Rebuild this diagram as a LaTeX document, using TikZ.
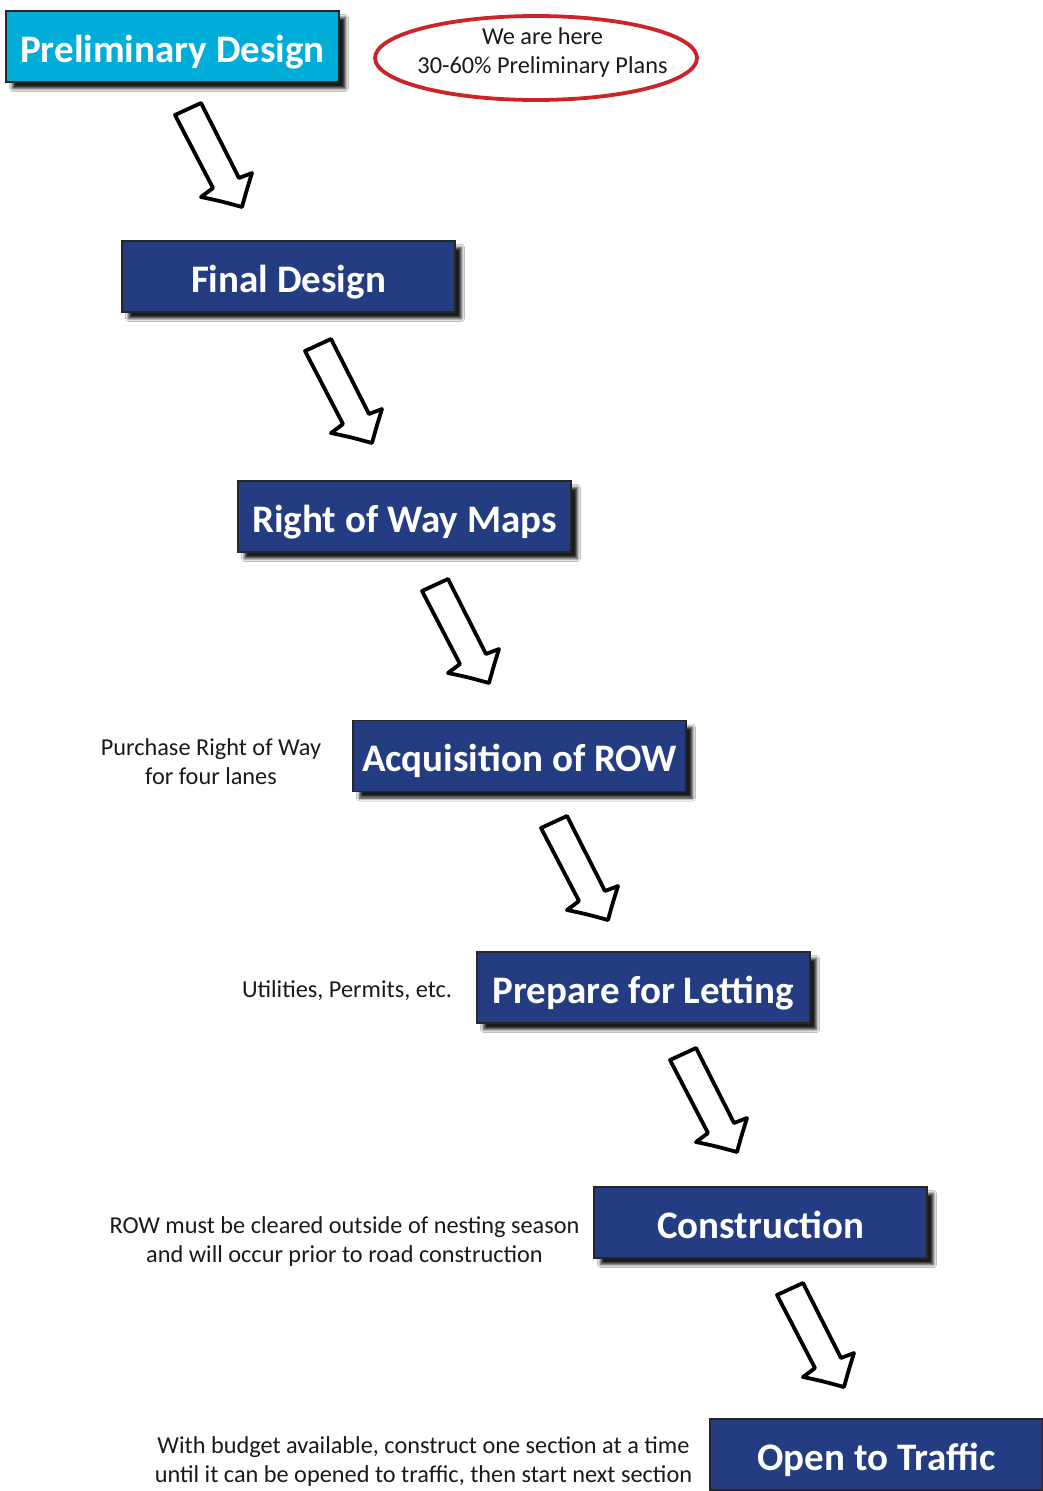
\documentclass[tikz,border=0pt]{standalone}
\usepackage{fontspec}
\setmainfont{Carlito}
\usetikzlibrary{shapes.geometric,shadows.blur}
\definecolor{navy}{HTML}{243C82}
\definecolor{cyanbox}{HTML}{00ADD9}
\definecolor{ovalred}{HTML}{CC2229}
\definecolor{txt}{HTML}{1A1A1A}
\tikzset{
  stagebox/.style={rectangle, draw=black!85, line width=1.6pt, fill=navy,
    minimum width=333pt, minimum height=71pt, inner sep=0pt,
    text height=31.5pt, text depth=0pt,
    text=white, font=\fontsize{39}{46}\selectfont\bfseries,
    blur shadow={shadow xshift=6.5pt, shadow yshift=-6.5pt, shadow blur radius=3pt, shadow opacity=90}},
  notetext/.style={text=txt, font=\fontsize{24.3}{29}\selectfont, align=center, inner sep=0pt},
  hollowarrow/.style={draw=black, fill=white, line width=3.8pt, line join=round},
  blockarrow/.pic={
    \path[hollowarrow] (-67,-92) -- (-41,-104) -- (-3,-29) -- (10,-34)
      .. controls (5,-18) .. (0,0) .. controls (-22,-6) .. (-41,-10) -- (-29,-19) -- cycle;
  }
}
\begin{document}
\begin{tikzpicture}[x=1pt,y=-1pt]
\useasboundingbox[fill=white] (0,0) rectangle (1043,1491);
% stages
\node[stagebox, fill=cyanbox] (prelim) at (172.5,46.5) {Preliminary Design};
\node[stagebox] (final) at (288.5,276.5) {Final Design};
\node[stagebox] (rowmaps) at (404.5,516.5) {Right of Way Maps};
\node[stagebox] (acq) at (519.5,756) {Acquisition of ROW};
\node[stagebox] (letting) at (643.5,987.5) {Prepare for Letting};
\node[stagebox] (constr) at (760.5,1222.5) {Construction};
\node[stagebox] (open) at (876.5,1454.5) {Open to Traffic};
% oval
\node[ellipse, draw=ovalred, line width=3.8pt, minimum width=322pt, minimum height=84pt,
  inner sep=0pt] (here) at (536,58) {};
\node[notetext] (heretext) at (542.5,52.5) {We are here\\30-60\% Preliminary Plans};
% notes
\node[notetext] (n1) at (211,761.5) {Purchase Right of Way\\for four lanes};
\node[notetext] (n2) at (347,991) {Utilities, Permits, etc.};
\node[notetext] (n3) at (344.5,1242) {ROW must be cleared outside of nesting season\\and will occur prior to road construction};
\node[notetext] (n4) at (423.5,1462) {With budget available, construct one section at a time\\until it can be opened to traffic, then start next section};
% arrows (tips)
\coordinate (t1) at (242,207);
\coordinate (t2) at (372,443);
\coordinate (t3) at (489,683);
\coordinate (t4) at (608,920);
\coordinate (t5) at (737,1152);
\coordinate (t6) at (844,1387);
\foreach \t in {t1,t2,t3,t4,t5,t6} { \pic at (\t) {blockarrow}; }
\end{tikzpicture}
\end{document}
